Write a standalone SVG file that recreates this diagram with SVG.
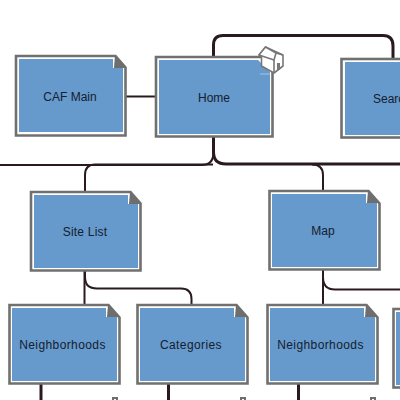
<svg xmlns="http://www.w3.org/2000/svg" width="400" height="400" viewBox="0 0 400 400">
<style>
.outer{fill:#fff;stroke:#707070;stroke-width:2.6}
.inner{fill:#6699cc;stroke:none}
.fold{fill:#6e6e6e;stroke:none}
.lbl{font-family:"Liberation Sans",Arial,sans-serif;font-size:12px;fill:#15202e;text-anchor:middle}
.wide{letter-spacing:.4px}
.c{fill:none;stroke:#2a1a20;stroke-width:2}
.c3{fill:none;stroke:#2a1a20;stroke-width:3}
.stub{fill:#fff;stroke:#6e6e6e;stroke-width:2}
</style>
<rect width="400" height="400" fill="#fff"/>
<g id="connectors">
<path class="c" d="M125 96.500H156"/>
<path class="c3" d="M213.500 57V45Q213.500 35.500 223 35.500H383Q393 35.500 393 46V60"/>
<path class="c3" d="M213.500 136V152Q213.500 164 226 164H400"/>
<path class="c" d="M0 165H202Q213.500 165 213.500 152"/>
<path class="c" d="M213 164.500H95Q85 164.500 85 175V192"/>
<path class="c" d="M312 164.500Q323 164.500 323 175V191"/>
<path class="c" d="M85 270V277Q85 288.500 97 288.500H181Q191.500 288.500 191.500 299V305"/>
<path class="c" d="M84.500 270V305"/>
<path class="c" d="M323 269V277Q323 289.500 335 289.500H400"/>
<path class="c" d="M323 269V305"/>
<path class="c3" d="M41 384V400"/>
<path class="c3" d="M168.500 384V400"/>
<path class="c3" d="M298.500 384V400"/>
</g>
<g id="node-caf-main">
<path class="outer" d="M16 56H115.500L125.500 67.500V135.500H16Z"/>
<path class="inner" d="M19 59H113V68H123V132H19Z"/>
<path class="fold" d="M115 55L126 68H114Z"/>
<text class="lbl" x="70" y="101">CAF Main</text>
</g>
<g id="node-home">
<path class="outer" d="M156 57H272.500V136.500H156Z"/>
<path class="inner" d="M159 60H258L270 72V134H159Z"/>
<path d="M260 74H270" stroke="#a9c4e0" stroke-width="1"/>
<text class="lbl" x="214" y="102">Home</text>
<g id="home-icon" fill="#fff" stroke="#777" stroke-width="1.600" stroke-linejoin="round">
<path d="M261.500 57V66L274 73L283 66V55L265.500 47L259 55Z"/>
<path d="M259 55L265.500 47L276 53L274 60Z"/>
<path d="M276 53L283 55"/>
<path d="M274 60V73"/>
</g>
<rect x="277" y="63" width="3" height="7" fill="#777"/>
</g>
<g id="node-search">
<rect class="outer" x="341.500" y="59" width="70" height="78.500"/>
<rect class="inner" x="345" y="62" width="60" height="73"/>
<text class="lbl" x="392" y="103">Search</text>
</g>
<g id="node-site-list">
<path class="outer" d="M31 192H130.500L140.500 203.500V270.500H31Z"/>
<path class="inner" d="M34 195H128V204H138V268H34Z"/>
<path class="fold" d="M130 191.500L141 204H129Z"/>
<text class="lbl" x="85" y="236" style="letter-spacing:.2px">Site List</text>
</g>
<g id="node-map">
<path class="outer" d="M269.500 191H368.500L379.500 203.500V269.500H269.500Z"/>
<path class="inner" d="M272 194H366V203H377V267H272Z"/>
<path class="fold" d="M368 190.500L380 203H367Z"/>
<text class="lbl" x="323" y="235">Map</text>
</g>
<g id="node-neighborhoods-1">
<path class="outer" d="M9.500 305H108.500L119.500 317.500V383.500H9.500Z"/>
<path class="inner" d="M12 308H106V317H117V381H12Z"/>
<path class="fold" d="M108 304.500L120 317H107Z"/>
<text class="lbl wide" x="62.500" y="349">Neighborhoods</text>
</g>
<g id="node-categories">
<path class="outer" d="M137.500 305H236.500L247.500 317.500V383.500H137.500Z"/>
<path class="inner" d="M140 308H234V317H245V381H140Z"/>
<path class="fold" d="M236 304.500L248 317H235Z"/>
<text class="lbl wide" x="191" y="349">Categories</text>
</g>
<g id="node-neighborhoods-2">
<path class="outer" d="M267.500 305H366.500L377.500 317.500V383.500H267.500Z"/>
<path class="inner" d="M270 308H364V317H375V381H270Z"/>
<path class="fold" d="M366 304.500L378 317H365Z"/>
<text class="lbl wide" x="320.500" y="349">Neighborhoods</text>
</g>
<g id="node-partial">
<rect class="outer" x="393.500" y="309" width="30" height="78.500"/>
<rect class="inner" x="396" y="312" width="10" height="73"/>
</g>
<g id="stubs">
<rect class="stub" x="113" y="398" width="4" height="5"/>
<rect class="stub" x="241" y="398" width="4" height="5"/>
<rect class="stub" x="371" y="398" width="4" height="5"/>
</g>
</svg>
